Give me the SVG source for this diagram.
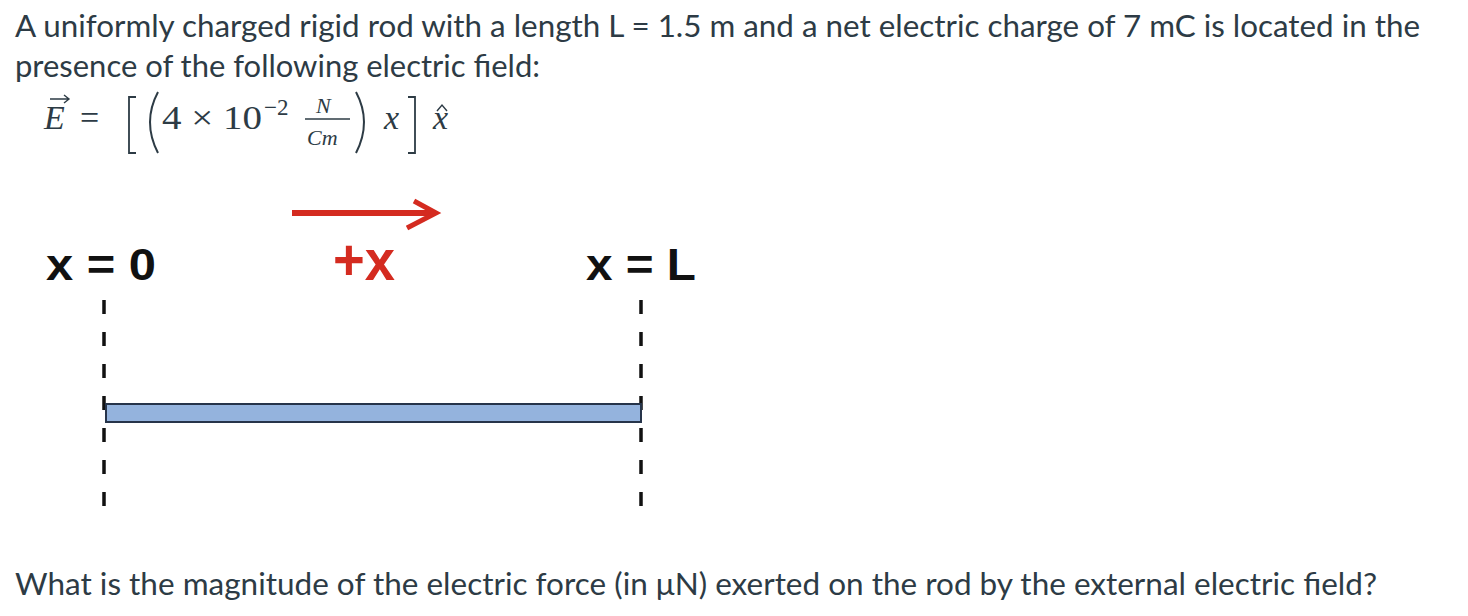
<svg xmlns="http://www.w3.org/2000/svg" width="1468" height="616" viewBox="0 0 1468 616">
<style>
.t{font-family:Lato,"Liberation Sans",sans-serif;font-size:31px;fill:#2d3b45}
.m{font-family:"Liberation Serif","DejaVu Serif",serif;fill:#2d3b45}
.mi{font-family:"Liberation Serif","DejaVu Serif",serif;font-style:italic;fill:#2d3b45}
.lab{font-family:"Liberation Sans",sans-serif;font-weight:bold;font-size:44px;fill:#111}
.dash{stroke:#111;stroke-width:3.5;stroke-dasharray:14,18}
</style>
<rect width="1468" height="616" fill="#fff"/>
<text class="t" x="15" y="37" textLength="1405" lengthAdjust="spacingAndGlyphs">A uniformly charged rigid rod with a length L = 1.5 m and a net electric charge of 7 mC is located in the</text>
<text class="t" x="15" y="77" textLength="525" lengthAdjust="spacingAndGlyphs">presence of the following electric field:</text>
<g id="equation">
<text class="mi" x="44" y="129" font-size="34">E</text>
<path d="M50 99 H68 M64 95 L69 99 L64 103" fill="none" stroke="#2d3b45" stroke-width="1.4"/>
<text class="m" x="80" y="129" font-size="34">=</text>
<path d="M136 97 H129 V153 H136" fill="none" stroke="#2d3b45" stroke-width="1.8"/>
<path d="M158 92 Q142 122 158 153" fill="none" stroke="#2d3b45" stroke-width="2"/>
<text class="m" x="162" y="129" font-size="34" textLength="100" lengthAdjust="spacingAndGlyphs">4 × 10</text>
<text class="m" x="264" y="115" font-size="23">−2</text>
<text class="mi" x="316" y="113" font-size="22">N</text>
<line x1="305" y1="119" x2="350" y2="119" stroke="#2d3b45" stroke-width="1.3"/>
<text class="mi" x="307" y="145" font-size="22">Cm</text>
<path d="M356 92 Q372 122 356 153" fill="none" stroke="#2d3b45" stroke-width="2"/>
<text class="mi" x="384" y="129" font-size="34">x</text>
<path d="M408 97 H415 V153 H408" fill="none" stroke="#2d3b45" stroke-width="1.8"/>
<text class="mi" x="433" y="129" font-size="34">x</text>
<path d="M437 111 L442 105 L447 111" fill="none" stroke="#2d3b45" stroke-width="1.4"/>
</g>
<g id="arrow">
<line x1="292" y1="213" x2="432" y2="213" stroke="#d42b20" stroke-width="6"/>
<path d="M414 201 L436 213 L407 228" fill="none" stroke="#d42b20" stroke-width="5"/>
<text x="333" y="280" font-family="Liberation Sans,sans-serif" font-weight="bold" font-size="58" fill="#d42b20" textLength="62" lengthAdjust="spacingAndGlyphs">+x</text>
</g>
<g id="labels">
<text class="lab" x="46" y="280" textLength="110" lengthAdjust="spacingAndGlyphs">x = 0</text>
<text class="lab" x="586" y="280" textLength="110" lengthAdjust="spacingAndGlyphs">x = L</text>
</g>
<g id="connectors">
<line class="dash" x1="104" y1="300" x2="104" y2="512"/>
<line class="dash" x1="641" y1="300" x2="641" y2="512"/>
</g>
<g id="rod">
<rect x="106" y="404" width="535" height="18" fill="#94b3dd" stroke="#26344a" stroke-width="2"/>
</g>
<text class="t" x="15" y="595" textLength="1362" lengthAdjust="spacingAndGlyphs">What is the magnitude of the electric force (in μN) exerted on the rod by the external electric field?</text>
</svg>
